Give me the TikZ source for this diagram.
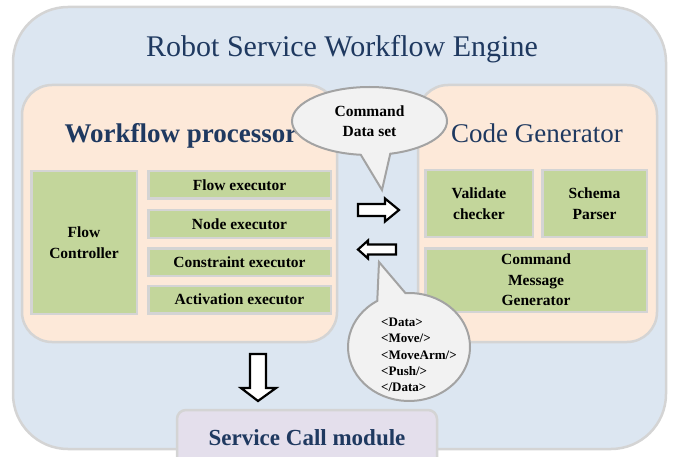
\documentclass[tikz,border=0pt]{standalone}
\usepackage{fontspec}
\setmainfont{Liberation Serif}
\usetikzlibrary{shapes.callouts}

\definecolor{engineblue}{HTML}{DCE6F1}
\definecolor{panelpeach}{HTML}{FDE9D9}
\definecolor{boxgreen}{HTML}{C3D69B}
\definecolor{svclilac}{HTML}{E4DFEC}
\definecolor{rimgray}{HTML}{D4D4D4}
\definecolor{navy}{HTML}{1F3960}
\definecolor{bubblefill}{HTML}{F2F2F2}
\definecolor{bubbleline}{HTML}{A3A3A3}

\begin{document}
\begin{tikzpicture}[x=1pt,y=-1pt,
  rim/.style={draw=rimgray, line width=2.5pt},
  panel/.style={rim, fill=panelpeach, rounded corners=30pt},
  unit/.style={rim, fill=boxgreen, inner sep=0pt, align=center,
    font=\bfseries\fontsize{15.5}{20.5}\selectfont},
  heading/.style={text=navy, inner sep=0pt, anchor=base},
  bubble/.style={ellipse callout, draw=bubbleline, line width=2pt,
    fill=bubblefill, inner sep=0pt},
  blockarrow/.style={draw=black, line width=2.2pt, fill=white, line join=miter}
]
\useasboundingbox (0,0) rectangle (677,457);
\clip (0,0) rectangle (677,457);

% engine frame
\draw[rim, fill=engineblue, rounded corners=55pt] (13,7) rectangle (666,449);
\node[heading, font=\fontsize{30}{34}\selectfont] (title) at (342,57)
  {Robot Service Workflow Engine};

% workflow processor panel
\draw[panel] (22,85) rectangle (337,342);
\node[heading, font=\bfseries\fontsize{27}{31}\selectfont] (wfp) at (181,143)
  {Workflow processor};
\node[unit, minimum width=105.5, minimum height=142.5] (fc) at (84,242.5)
  {Flow\\Controller};
\node[unit, minimum width=182.5, minimum height=27.5] (fe) at (239.5,185)
  {Flow executor};
\node[unit, minimum width=182.5, minimum height=27.5] (ne) at (239.5,224)
  {Node executor};
\node[unit, minimum width=182.5, minimum height=27.5] (ce) at (239.5,262)
  {Constraint executor};
\node[unit, minimum width=182.5, minimum height=27.5] (ae) at (239.5,299.5)
  {Activation executor};

% code generator panel
\draw[panel] (418,85) rectangle (657,342);
\node[heading, font=\fontsize{27}{31}\selectfont] (cg) at (537,143)
  {Code Generator};
\node[unit, minimum width=107.5, minimum height=66.5] (vc) at (479,203.5)
  {Validate\\checker};
\node[unit, minimum width=104.5, minimum height=66.5] (sp) at (594.5,203.5)
  {Schema\\Parser};
\node[unit, minimum width=221.5, minimum height=63.5] (cmg) at (536,280)
  {Command\\Message\\Generator};

% exchange arrows between the panels
\draw[blockarrow] (358,204) -- (385,204) -- (385,198.5) -- (399,210)
  -- (385,221.5) -- (385,216) -- (358,216) -- cycle;
\draw[blockarrow] (396,244.5) -- (368,244.5) -- (368,240.5) -- (358,249.5)
  -- (368,258.5) -- (368,254.5) -- (396,254.5) -- cycle;

% service call module
\draw[rim, fill=svclilac, rounded corners=9pt] (177,410) rectangle (437,475);
\node[heading, font=\bfseries\fontsize{23}{27}\selectfont] (scm) at (307,445)
  {Service Call module};
\draw[blockarrow] (250,354) -- (266,354) -- (266,388) -- (276,388)
  -- (258,401) -- (241,388) -- (250,388) -- cycle;

% callouts
\node[bubble, minimum width=155, minimum height=68,
  callout absolute pointer={(382,190)}, callout pointer arc=22,
  align=center, font=\bfseries\fontsize{15.5}{20.5}\selectfont]
  (cmdset) at (369.5,121) {Command\\Data set};
\node[bubble, minimum width=122, minimum height=108,
  callout absolute pointer={(379,262)}, callout pointer arc=28]
  (xmlmsg) at (409,347) {};
\node[anchor=west, inner sep=0pt, align=left,
  font=\bfseries\fontsize{13}{16.2}\selectfont] (xmltext) at (381,355)
  {<Data>\\<Move/>\\<MoveArm/>\\<Push/>\\</Data>};
\end{tikzpicture}
\end{document}
